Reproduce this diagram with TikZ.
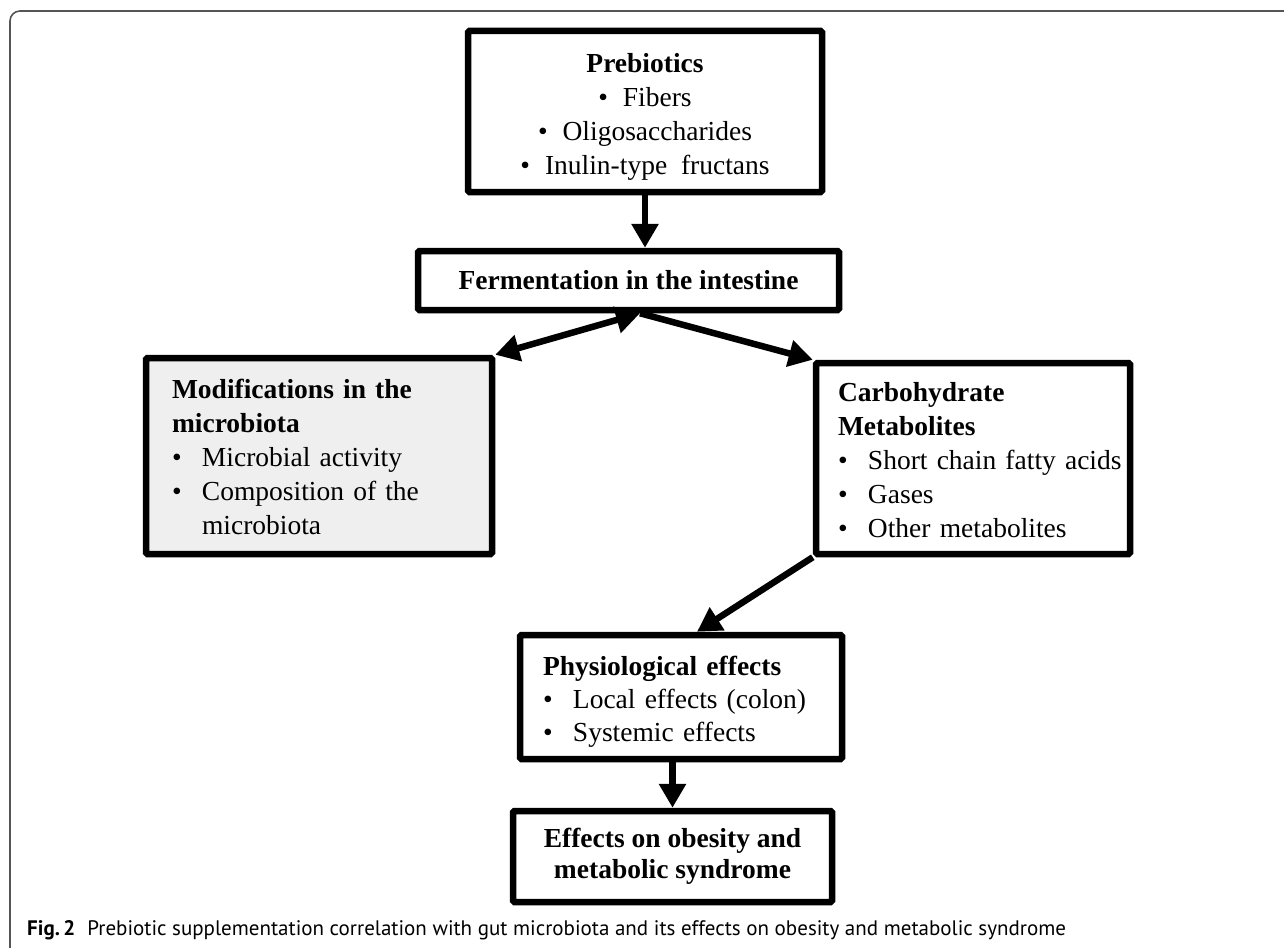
\documentclass[tikz,border=0pt]{standalone}
\usepackage{fontspec}
\setmainfont{Liberation Serif}
\newfontfamily\capfont{PT Sans}
\usetikzlibrary{arrows.meta}
\definecolor{framegray}{HTML}{555555}
\definecolor{boxgray}{HTML}{EFEFEF}
\newcommand{\itm}[1]{\makebox[30pt][l]{\textbullet}\mbox{#1}}
\newcommand{\citm}[1]{\textbullet\hspace{15pt}#1}

\begin{document}
\begin{tikzpicture}[x=1pt, y=-1pt, inner sep=0pt]
		\tikzstyle{every node}=[font=\fontsize{27.5}{34}\selectfont]
		\tikzstyle{box}=[draw, line width=6.5pt, rounded corners=1.5pt]
		\tikzstyle{link}=[line width=6.5pt, -{Triangle[length=24pt,width=26pt]}]
			\clip (0,0) rectangle (1284,947);
			\draw[framegray, line width=1.6pt, rounded corners=10pt] (10,11) rectangle (1310,965);

			\node[box, minimum width=354pt, minimum height=161pt, align=center] (prebio) at (645,111.5)
				{\rule{0pt}{29pt}\textbf{Prebiotics}\\\citm{Fibers}\\\citm{Oligosaccharides}\\\citm{Inulin-type\ \ fructans}};
			\node[box, minimum width=421pt, minimum height=59pt, align=center] (ferm) at (628.5,280.5)
				{\textbf{Fermentation in the intestine}};
			\node[box, fill=boxgray, minimum width=346pt, minimum height=196pt, text width=294pt, align=left] (mods) at (319,456)
				{\rule{0pt}{22pt}\textbf{Modifications in the}\\\textbf{microbiota}\\\itm{Microbial activity}\\\itm{Composition of the}\\\hspace*{30pt}microbiota};
			\node[box, minimum width=314pt, minimum height=191pt, text width=270pt, align=left] (carb) at (973,458.5)
				{\rule{0pt}{22pt}\textbf{Carbohydrate}\\\textbf{Metabolites}\\\itm{Short chain fatty acids}\\\itm{Gases}\\\itm{Other metabolites}};
			\node[box, minimum width=322pt, minimum height=124pt, text width=276pt, align=left, font=\fontsize{27.5}{33}\selectfont] (phys) at (681,697)
				{\rule{0pt}{28pt}\textbf{Physiological effects}\\\itm{Local effects (colon)}\\\itm{Systemic effects}};
			\node[box, minimum width=319pt, minimum height=91pt, align=center, font=\fontsize{27.5}{31}\selectfont] (eff) at (672.5,856.5)
				{\textbf{Effects on obesity and}\\\textbf{metabolic syndrome}};

			\draw[link] (prebio.south) -- (prebio.south |- ferm.north);
			\draw[link, {Triangle[length=24pt,width=26pt]}-{Triangle[length=24pt,width=26pt]}] ([xshift=11.5pt]ferm.south) -- (mods.north east);
			\draw[link] ([xshift=11.5pt]ferm.south) -- (carb.north west);
			\draw[link] (carb.south west) -- ([xshift=16pt]phys.north);
			\draw[link] (phys.south -| eff.north) -- (eff.north);

			\node[anchor=base west, font=\capfont\fontsize{21}{25}\selectfont] (caption) at (27,935)
				{\textbf{Fig.\,2}\hspace{12pt}Prebiotic supplementation correlation with gut microbiota and its effects on obesity and metabolic syndrome};
\end{tikzpicture}
\end{document}
